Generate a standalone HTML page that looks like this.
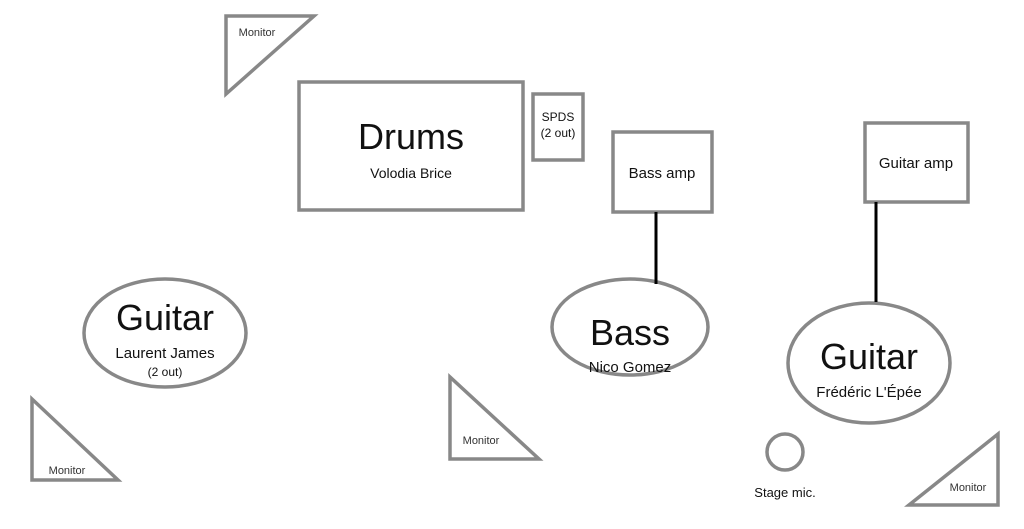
<!DOCTYPE html>
<html><head><style>body{margin:0;background:#fff}svg{display:block}</style></head><body>
<svg width="1024" height="529" viewBox="0 0 1024 529" xmlns="http://www.w3.org/2000/svg" font-family="Liberation Sans, sans-serif">
<g fill="none" stroke="#888" stroke-width="3.5">
<polygon points="226,16 314,16 226,94"/>
<rect x="299" y="82" width="224" height="128"/>
<rect x="533" y="94" width="50" height="66"/>
<rect x="613" y="132" width="99" height="80"/>
<rect x="865" y="123" width="103" height="79"/>
<ellipse cx="165" cy="333" rx="81" ry="54"/>
<ellipse cx="630" cy="327" rx="78" ry="48"/>
<ellipse cx="869" cy="363" rx="81" ry="60"/>
<polygon points="32,399 32,480 118,480"/>
<polygon points="450,377 450,459 539,459"/>
<polygon points="998,434 998,505 909,505"/>
<circle cx="785" cy="452" r="18"/>
</g>
<g stroke="#000" stroke-width="3">
<line x1="656" y1="212" x2="656" y2="284"/>
<line x1="876" y1="202" x2="876" y2="302"/>
</g>
<g fill="#111" text-anchor="middle">
<text x="411" y="149" font-size="36">Drums</text>
<text x="411" y="178" font-size="14">Volodia Brice</text>
<text x="558" y="121" font-size="12">SPDS</text>
<text x="558" y="137" font-size="12">(2 out)</text>
<text x="662" y="178" font-size="15">Bass amp</text>
<text x="916" y="168" font-size="15">Guitar amp</text>
<text x="165" y="330" font-size="36">Guitar</text>
<text x="165" y="358" font-size="15">Laurent James</text>
<text x="165" y="376" font-size="12">(2 out)</text>
<text x="630" y="345" font-size="36">Bass</text>
<text x="630" y="372" font-size="15">Nico Gomez</text>
<text x="869" y="369" font-size="36">Guitar</text>
<text x="869" y="397" font-size="15">Frédéric L'Épée</text>
<text x="785" y="497" font-size="13">Stage mic.</text>
<text x="257" y="36" font-size="11" fill="#333">Monitor</text>
<text x="67" y="474" font-size="11" fill="#333">Monitor</text>
<text x="481" y="444" font-size="11" fill="#333">Monitor</text>
<text x="968" y="491" font-size="11" fill="#333">Monitor</text>
</g>
</svg>
</body></html>
